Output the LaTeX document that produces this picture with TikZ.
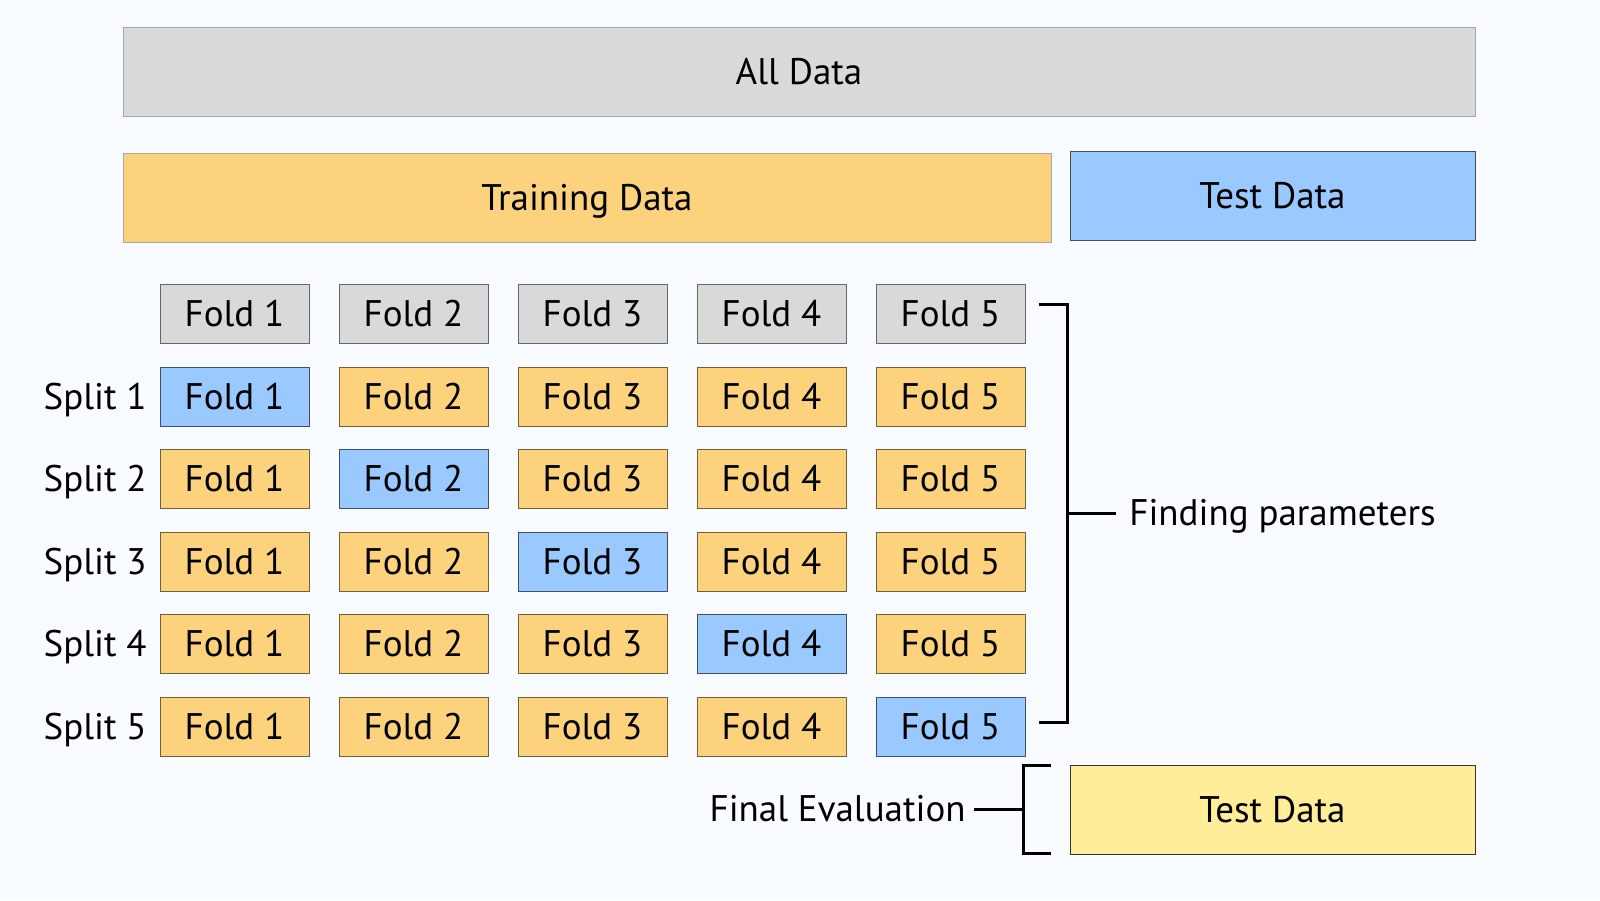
\documentclass[tikz,border=0pt]{standalone}
\usepackage{fontspec}
\setmainfont{PT Sans}
\definecolor{bgcol}{HTML}{F8FBFF}
\definecolor{greycol}{HTML}{D9D9D9}
\definecolor{traincol}{HTML}{FCD37C}
\definecolor{testcol}{HTML}{99C9FF}
\definecolor{finalcol}{HTML}{FFED99}
\tikzset{
  box/.style={draw, line width=0.5pt, inner sep=0pt, text height=12.6pt, text depth=0pt,
    font=\fontsize{18.5}{20}\selectfont},
  bigbox/.style={box, minimum height=44.5pt},
  fold/.style={box, minimum width=74.5pt, minimum height=29.5pt},
  greyfold/.style={fold, fill=greycol, draw=black!60},
  trainfold/.style={fold, fill=traincol, draw=traincol!45!black},
  testfold/.style={fold, fill=testcol, draw=testcol!40!black},
  label/.style={inner sep=0pt, text height=12.6pt, text depth=0pt, font=\fontsize{18.5}{20}\selectfont},
  bracket/.style={line width=1.5pt}
}
\begin{document}
\begin{tikzpicture}[x=0.5pt, y=-0.5pt]
% Background
\fill[bgcol] (0,0) rectangle (1600,900);
\useasboundingbox (0,0) rectangle (1600,900);

% Data blocks
\node[bigbox, fill=greycol, draw=black!35, minimum width=676pt] (alldata) at (799,72) {All Data};
\node[bigbox, fill=traincol, draw=black!35, minimum width=464pt] (train) at (587,197.5) {Training Data};
\node[bigbox, fill=testcol, draw=black!70, minimum width=202.5pt] (test) at (1272.5,195.5) {Test Data};

% Header folds
\node[greyfold] (h1) at (234.5,313.5) {Fold 1};
\node[greyfold] (h2) at (413.5,313.5) {Fold 2};
\node[greyfold] (h3) at (592.5,313.5) {Fold 3};
\node[greyfold] (h4) at (771.5,313.5) {Fold 4};
\node[greyfold] (h5) at (950.5,313.5) {Fold 5};

% Splits
\node[label, anchor=east] (s1) at (147,396.5) {Split 1};
\node[label, anchor=east] (s2) at (147,479) {Split 2};
\node[label, anchor=east] (s3) at (147,561.5) {Split 3};
\node[label, anchor=east] (s4) at (147,644) {Split 4};
\node[label, anchor=east] (s5) at (147,726.5) {Split 5};

\node[testfold] (f11) at (234.5,396.5) {Fold 1};
\node[trainfold] (f12) at (413.5,396.5) {Fold 2};
\node[trainfold] (f13) at (592.5,396.5) {Fold 3};
\node[trainfold] (f14) at (771.5,396.5) {Fold 4};
\node[trainfold] (f15) at (950.5,396.5) {Fold 5};

\node[trainfold] (f21) at (234.5,479) {Fold 1};
\node[testfold] (f22) at (413.5,479) {Fold 2};
\node[trainfold] (f23) at (592.5,479) {Fold 3};
\node[trainfold] (f24) at (771.5,479) {Fold 4};
\node[trainfold] (f25) at (950.5,479) {Fold 5};

\node[trainfold] (f31) at (234.5,561.5) {Fold 1};
\node[trainfold] (f32) at (413.5,561.5) {Fold 2};
\node[testfold] (f33) at (592.5,561.5) {Fold 3};
\node[trainfold] (f34) at (771.5,561.5) {Fold 4};
\node[trainfold] (f35) at (950.5,561.5) {Fold 5};

\node[trainfold] (f41) at (234.5,644) {Fold 1};
\node[trainfold] (f42) at (413.5,644) {Fold 2};
\node[trainfold] (f43) at (592.5,644) {Fold 3};
\node[testfold] (f44) at (771.5,644) {Fold 4};
\node[trainfold] (f45) at (950.5,644) {Fold 5};

\node[trainfold] (f51) at (234.5,726.5) {Fold 1};
\node[trainfold] (f52) at (413.5,726.5) {Fold 2};
\node[trainfold] (f53) at (592.5,726.5) {Fold 3};
\node[trainfold] (f54) at (771.5,726.5) {Fold 4};
\node[testfold] (f55) at (950.5,726.5) {Fold 5};

% Finding parameters bracket
\node[label, anchor=west] (params) at (1129,513) {Finding parameters};
\coordinate (ptop) at (1039,304);
\coordinate (pbot) at (1039,722);
\coordinate (pmid) at (1067,513);
\draw[bracket] (ptop) -| (pmid) |- (pbot);
\draw[bracket, shorten >=6.5pt] (pmid) -- (params.west);

% Final evaluation bracket
\node[bigbox, fill=finalcol, draw=black!80, minimum width=202.5pt] (final) at (1272.5,809.5) {Test Data};
\node[label, anchor=east] (evaluation) at (966,809) {Final Evaluation};
\coordinate (etop) at (1051,765);
\coordinate (ebot) at (1051,853);
\coordinate (emid) at (1023,809);
\draw[bracket] (etop) -| (emid) |- (ebot);
\draw[bracket, shorten <=4pt] (evaluation.east) -- (emid);
\end{tikzpicture}
\end{document}
